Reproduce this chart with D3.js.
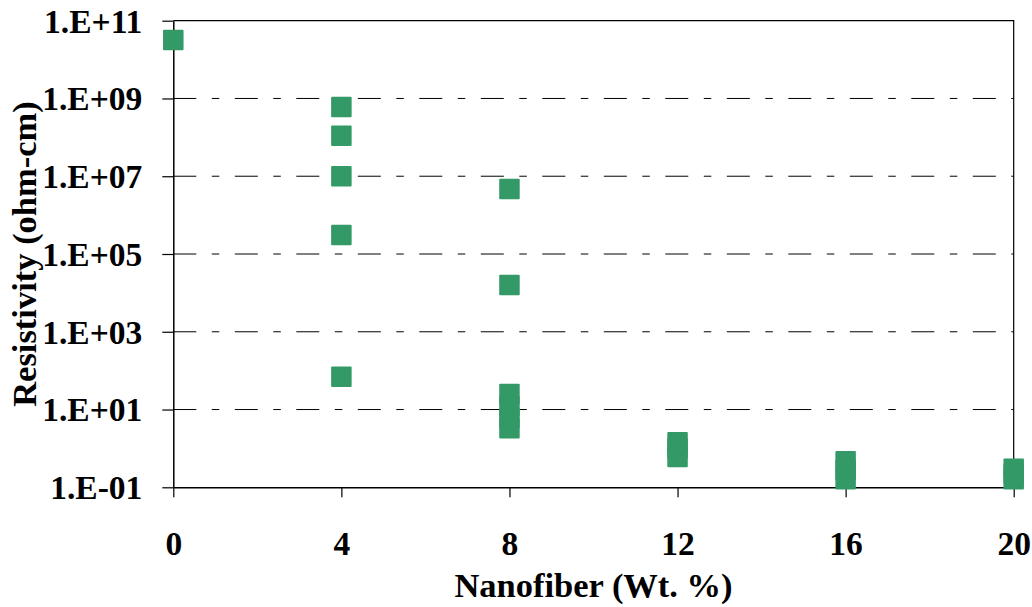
<!DOCTYPE html>
<html lang="en">
<head>
<meta charset="utf-8"/>
<style>
  body { margin: 0; background: #fff; }
  text { font-family: "Liberation Serif", "Times New Roman", serif; font-weight: bold; fill: #000; }
</style>
</head>
<body>
<svg id="chart" width="1032" height="607"></svg>

<script src="https://d3js.org/d3.v7.min.js"></script>
<script>
// data
const nanofiberWt = [0, 4, 4, 4, 4, 4, 8, 8, 8, 8, 8, 8, 12, 12, 12, 16, 16, 16, 20, 20, 20];
const resistivity = [3.2e10, 6e8, 1.1e8, 1e7, 3.1e5, 70, 4.7e6, 1.6e4, 25, 12, 6, 3.3,
                     1.45, 1.0, 0.6, 0.47, 0.28, 0.16, 0.30, 0.22, 0.16];
const xTicks = [0, 4, 8, 12, 16, 20];
const yTicks = [1e-1, 1e1, 1e3, 1e5, 1e7, 1e9, 1e11];

const plotL = 173.3, plotR = 1013.7, plotT = 20.7, plotB = 487.3;
const svg = d3.select("#chart");

const x = d3.scaleLinear().domain([0, 20]).range([plotL, plotR]);
const y = d3.scaleLog().domain([1e-1, 1e11]).range([plotB, plotT]);

const fmt = v => {
  const e = Math.round(Math.log10(v));
  return "1.E" + (e < 0 ? "-" : "+") + String(Math.abs(e)).padStart(2, "0");
};

// dash-dot gridlines
svg.append("g")
  .selectAll("line")
  .data(yTicks.slice(1, -1))
  .join("line")
  .attr("x1", plotL).attr("x2", plotR)
  .attr("y1", d => y(d)).attr("y2", d => y(d))
  .attr("stroke", "#000").attr("stroke-width", 1)
  .attr("stroke-dasharray", "23,15.5,7.5,15.5");

// top and right border
svg.append("path")
  .attr("d", `M${plotL},${plotT}H${plotR}V${plotB}`)
  .attr("fill", "none").attr("stroke", "#000").attr("stroke-width", 1.2);

// axes
const xAxis = svg.append("g")
  .attr("transform", `translate(0,${plotB})`)
  .call(d3.axisBottom(x).tickValues(xTicks).tickSize(10).tickSizeOuter(0).tickFormat(d3.format("d")));
xAxis.selectAll("text").attr("y", 44).attr("dy", "0.71em").style("font-size", "33.5px");

const yAxis = svg.append("g")
  .attr("transform", `translate(${plotL},0)`)
  .call(d3.axisLeft(y).tickValues(yTicks).tickSize(11).tickSizeOuter(0).tickFormat(fmt));
yAxis.selectAll("text").attr("x", -31).attr("dy", "0.34em").style("font-size", "33.5px");

svg.selectAll(".domain").attr("stroke", "#000").attr("stroke-width", 1.5);
svg.selectAll(".tick line").attr("stroke", "#000").attr("stroke-width", 1.2);
svg.selectAll("g").attr("font-family", null).attr("font-size", null);

// markers
const pts = nanofiberWt.map((w, i) => ({ w, r: resistivity[i] }));
const s = 20.5;
svg.append("g")
  .selectAll("rect")
  .data(pts)
  .join("rect")
  .attr("x", d => x(d.w) - s / 2)
  .attr("y", d => y(d.r) - s / 2)
  .attr("width", s).attr("height", s)
  .attr("rx", 1)
  .attr("fill", "#339966");

// axis titles
svg.append("text")
  .attr("x", (plotL + plotR) / 2).attr("y", 597)
  .attr("text-anchor", "middle")
  .style("font-size", "34.5px")
  .text("Nanofiber (Wt. %)");

svg.append("text")
  .attr("transform", `translate(36,${(plotT + plotB) / 2}) rotate(-90)`)
  .attr("text-anchor", "middle")
  .style("font-size", "34.5px")
  .text("Resistivity (ohm-cm)");
</script>
</body>
</html>
